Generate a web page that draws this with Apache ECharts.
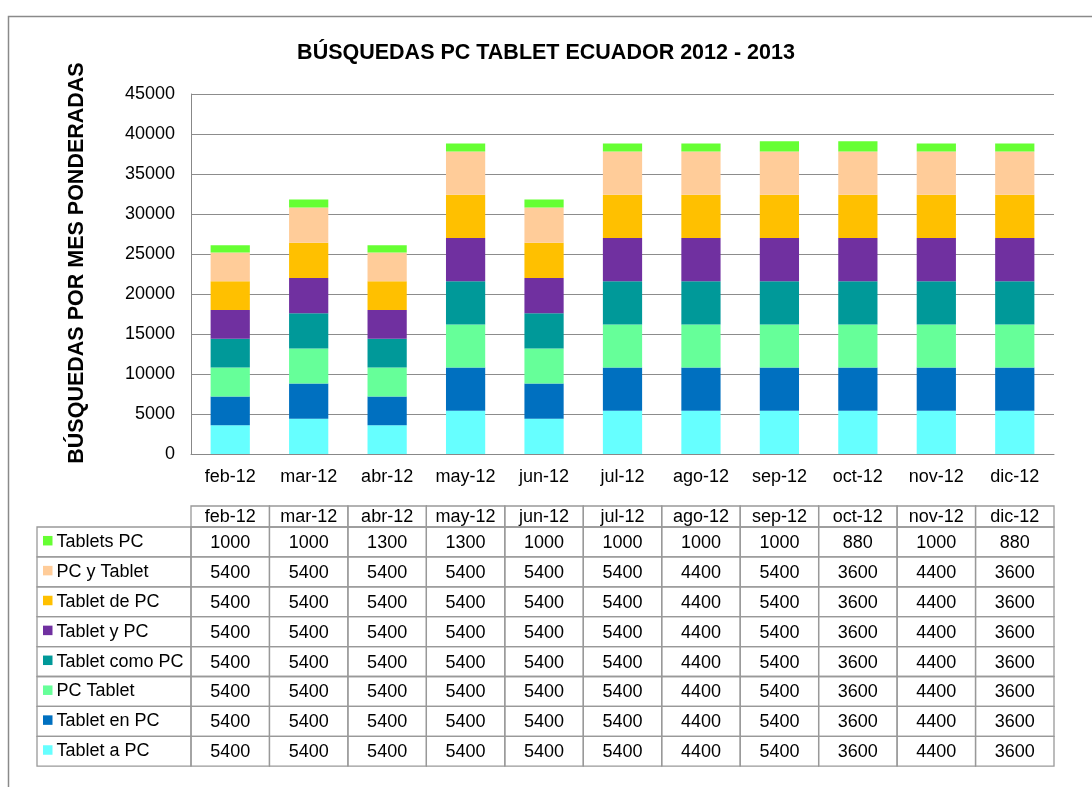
<!DOCTYPE html>
<html>
<head>
<meta charset="utf-8">
<script src="https://cdn.jsdelivr.net/npm/echarts@6/dist/echarts.min.js"></script>
<style>
    html, body { margin: 0; padding: 0; background: #fff; }
    #chart { width: 1092px; height: 787px; }
</style>
</head>
<body>
<div id="chart"></div>
<script>
    // categorias (meses)
    const meses = ['feb-12', 'mar-12', 'abr-12', 'may-12', 'jun-12', 'jul-12', 'ago-12', 'sep-12', 'oct-12', 'nov-12', 'dic-12'];

    // series, de arriba (tabla) hacia abajo
    const nombres = ['Tablets PC', 'PC y Tablet', 'Tablet de PC', 'Tablet y PC', 'Tablet como PC', 'PC Tablet', 'Tablet en PC', 'Tablet a PC'];
    const colores = ['#66FF33', '#FFCC99', '#FFC000', '#7030A0', '#009999', '#66FF99', '#0070C0', '#66FFFF'];

    // valores de las barras
    const barTabletsPC    = [880, 1000, 880, 1000, 1000, 1000, 1000, 1300, 1300, 1000, 1000];
    const barPCyTablet    = [3600, 4400, 3600, 5400, 4400, 5400, 5400, 5400, 5400, 5400, 5400];
    const barTabletDePC   = [3600, 4400, 3600, 5400, 4400, 5400, 5400, 5400, 5400, 5400, 5400];
    const barTabletYPC    = [3600, 4400, 3600, 5400, 4400, 5400, 5400, 5400, 5400, 5400, 5400];
    const barTabletComoPC = [3600, 4400, 3600, 5400, 4400, 5400, 5400, 5400, 5400, 5400, 5400];
    const barPCTablet     = [3600, 4400, 3600, 5400, 4400, 5400, 5400, 5400, 5400, 5400, 5400];
    const barTabletEnPC   = [3600, 4400, 3600, 5400, 4400, 5400, 5400, 5400, 5400, 5400, 5400];
    const barTabletAPC    = [3600, 4400, 3600, 5400, 4400, 5400, 5400, 5400, 5400, 5400, 5400];

    // valores de la tabla de datos (como aparecen escritos)
    const tabTabletsPC    = [1000, 1000, 1300, 1300, 1000, 1000, 1000, 1000, 880, 1000, 880];
    const tabPCyTablet    = [5400, 5400, 5400, 5400, 5400, 5400, 4400, 5400, 3600, 4400, 3600];
    const tabTabletDePC   = [5400, 5400, 5400, 5400, 5400, 5400, 4400, 5400, 3600, 4400, 3600];
    const tabTabletYPC    = [5400, 5400, 5400, 5400, 5400, 5400, 4400, 5400, 3600, 4400, 3600];
    const tabTabletComoPC = [5400, 5400, 5400, 5400, 5400, 5400, 4400, 5400, 3600, 4400, 3600];
    const tabPCTablet     = [5400, 5400, 5400, 5400, 5400, 5400, 4400, 5400, 3600, 4400, 3600];
    const tabTabletEnPC   = [5400, 5400, 5400, 5400, 5400, 5400, 4400, 5400, 3600, 4400, 3600];
    const tabTabletAPC    = [5400, 5400, 5400, 5400, 5400, 5400, 4400, 5400, 3600, 4400, 3600];

    const yTicks = [0, 5000, 10000, 15000, 20000, 25000, 30000, 35000, 40000, 45000];

    const barras = [barTabletsPC, barPCyTablet, barTabletDePC, barTabletYPC, barTabletComoPC, barPCTablet, barTabletEnPC, barTabletAPC];
    const tabla = [tabTabletsPC, tabPCyTablet, tabTabletDePC, tabTabletYPC, tabTabletComoPC, tabPCTablet, tabTabletEnPC, tabTabletAPC];

    const FONT = '"Liberation Sans", Arial, sans-serif';
    const chart = echarts.init(document.getElementById('chart'));

    // apiladas de abajo hacia arriba
    const series = nombres.map((n, i) => ({
        name: n,
        type: 'bar',
        stack: 'total',
        barWidth: '50%',
        data: barras[i],
        itemStyle: {color: colores[i]},
        emphasis: {disabled: true}
    })).reverse();

    chart.setOption({
        animation: false,
        title: {
            text: 'BÚSQUEDAS PC TABLET ECUADOR 2012 - 2013',
            left: 'center',
            top: 37,
            textStyle: {fontFamily: FONT, fontSize: 21.5, fontWeight: 'bold', color: '#000'}
        },
        grid: {left: 191, right: 38, top: 94, bottom: 333},
        xAxis: {
            type: 'category',
            data: meses,
            axisTick: {show: false},
            axisLine: {lineStyle: {color: '#888', width: 1}},
            axisLabel: {fontFamily: FONT, fontSize: 18, color: '#000', margin: 14}
        },
        yAxis: {
            type: 'value',
            min: yTicks[0],
            max: yTicks[yTicks.length - 1],
            interval: 5000,
            axisLine: {show: true, lineStyle: {color: '#888', width: 1}},
            axisTick: {show: false},
            splitLine: {lineStyle: {color: '#8c8c8c', width: 1.2}},
            axisLabel: {fontFamily: FONT, fontSize: 18, color: '#000', margin: 16, formatter: v => String(v)}
        },
        series: series
    });

    // tabla de datos debajo del grafico
    const x0 = chart.convertToPixel({xAxisIndex: 0}, 0);
    const x1 = chart.convertToPixel({xAxisIndex: 0}, 1);
    const band = x1 - x0;
    const headTop = 506, headH = 21, rowH = 29.9;
    const legLeft = 37, legRight = x0 - band / 2;
    const linea = {fill: 'none', stroke: '#999', lineWidth: 1.3};
    const els = [];

    els.push({type: 'rect', shape: {x: 8.5, y: 16.5, width: 1100, height: 800}, style: {fill: 'none', stroke: '#8a8a8a', lineWidth: 1.5}, silent: true});
    els.push({
        type: 'text', x: 77, y: 263, rotation: Math.PI / 2,
        style: {text: 'BÚSQUEDAS POR MES PONDERADAS', font: 'bold 21.5px ' + FONT, fill: '#000',
            align: 'center', verticalAlign: 'middle', textAlign: 'center', textVerticalAlign: 'middle'}
    });

    meses.forEach((m, j) => {
        const cx = chart.convertToPixel({xAxisIndex: 0}, j);
        els.push({type: 'rect', shape: {x: cx - band / 2, y: headTop, width: band, height: headH}, style: linea});
        els.push({type: 'text', x: cx, y: headTop + headH / 2 + 1,
            style: {text: m, font: '18px ' + FONT, fill: '#000', align: 'center', verticalAlign: 'middle', textAlign: 'center', textVerticalAlign: 'middle'}});
    });

    nombres.forEach((n, i) => {
        const y = headTop + headH + i * rowH;
        els.push({type: 'rect', shape: {x: legLeft, y: y, width: legRight - legLeft, height: rowH}, style: linea});
        els.push({type: 'rect', shape: {x: 43, y: y + rowH / 2 - 6, width: 9.5, height: 9.5}, style: {fill: colores[i]}});
        els.push({type: 'text', x: 56.5, y: y + rowH / 2,
            style: {text: n, font: '18px ' + FONT, fill: '#000', align: 'left', verticalAlign: 'middle', textAlign: 'left', textVerticalAlign: 'middle'}});
        tabla[i].forEach((v, j) => {
            const cx = chart.convertToPixel({xAxisIndex: 0}, j);
            els.push({type: 'rect', shape: {x: cx - band / 2, y: y, width: band, height: rowH}, style: linea});
            els.push({type: 'text', x: cx, y: y + rowH / 2 + 1,
                style: {text: String(v), font: '18px ' + FONT, fill: '#000', align: 'center', verticalAlign: 'middle', textAlign: 'center', textVerticalAlign: 'middle'}});
        });
    });

    chart.setOption({graphic: {elements: els}});
</script>
</body>
</html>
